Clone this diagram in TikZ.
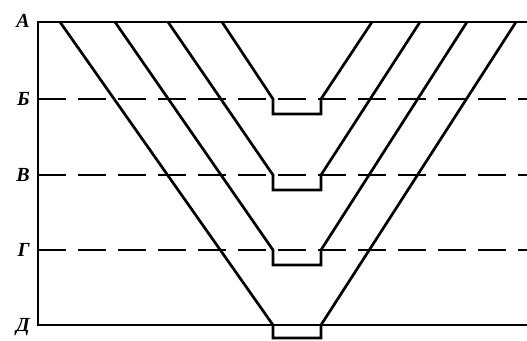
\documentclass[tikz,border=0pt]{standalone}
\usepackage{fontspec}
\setmainfont{Liberation Serif}
\usetikzlibrary{positioning}

\begin{document}
\begin{tikzpicture}[
    x=1pt, y=-1pt,
    frame/.style={line width=2.2pt},
    level/.style={line width=2pt, dash pattern=on 28pt off 12pt},
    profile/.style={line width=2.7pt, line join=miter},
    mark label/.style={font=\bfseries\itshape\fontsize{20}{20}\selectfont, anchor=east, inner sep=0pt}
]
\useasboundingbox (0,0) rectangle (527,340);

\coordinate (topL) at (38,22);
\coordinate (topR) at (527,22);
\coordinate (botL) at (38,325);
\coordinate (botR) at (527,325);
\coordinate (bL) at (38,99);
\coordinate (bR) at (527,99);
\coordinate (vL) at (38,175);
\coordinate (vR) at (527,175);
\coordinate (gL) at (38,250);
\coordinate (gR) at (527,250);

\node[mark label] (lvlA) at (30,21) {А};
\node[mark label] (lvlB) at (30,99) {Б};
\node[mark label] (lvlV) at (30,175) {В};
\node[mark label] (lvlG) at (30,250) {Г};
\node[mark label] (lvlD) at (30,327) {Д};

\draw[frame] (topR) -- (topL) -- (botL) -- (botR);
\draw[level] (bL) -- (bR);
\draw[level] (vL) -- (vR);
\draw[level] (gL) -- (gR);

\draw[profile] (222,22) -- (273,99) -- (273,114) -- (321,114) -- (321,99) -- (372,22);
\draw[profile] (168,22) -- (273,175) -- (273,190) -- (321,190) -- (321,175) -- (420,22);
\draw[profile] (115,22) -- (273,250) -- (273,265) -- (321,265) -- (321,250) -- (467,22);
\draw[profile] (60,22) -- (273,325) -- (273,338) -- (321,338) -- (321,325) -- (516,22);
\end{tikzpicture}
\end{document}
